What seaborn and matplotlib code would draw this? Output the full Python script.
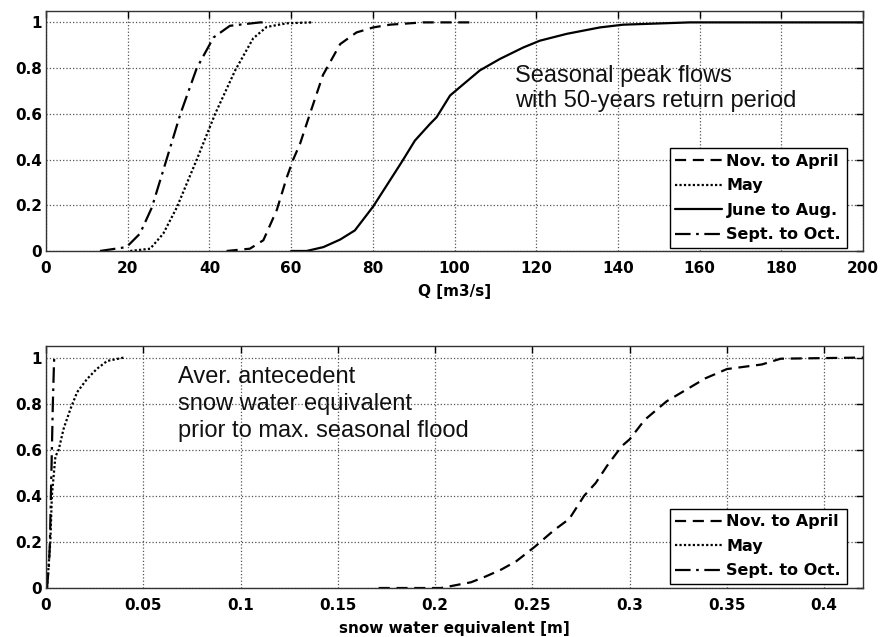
import numpy as np
import pandas as pd
import matplotlib
matplotlib.use("Agg")
import matplotlib.pyplot as plt
from matplotlib.ticker import FuncFormatter
import seaborn as sns

# ---------------- data ----------------
# Top panel: seasonal peak flows, CDF
q_nov = [44.2, 49.9, 53.2, 56.5, 58.9, 60.5, 62.2, 64.6, 67.8, 72.0, 76.0, 80.1, 84.2, 92.3, 105.0]
p_nov = [0.0, 0.01, 0.047, 0.18, 0.32, 0.40, 0.47, 0.60, 0.77, 0.905, 0.956, 0.978, 0.99, 1.0, 1.0]

q_may = [20.6, 25.5, 28.7, 32.0, 36.9, 41.4, 46.3, 50.7, 54.0, 58.9, 65.0]
p_may = [0.0, 0.01, 0.076, 0.19, 0.40, 0.60, 0.79, 0.93, 0.98, 0.996, 1.0]

q_jun = [60.0, 63.8, 67.9, 72.0, 75.6, 80.1, 83.4, 87.1, 90.3, 94.0, 95.6, 98.9, 102.2,
         106.2, 111.1, 116.8, 120.9, 127.5, 135.6, 141.3, 149.5, 157.6, 200.0]
p_jun = [0.0, 0.0, 0.017, 0.05, 0.09, 0.195, 0.287, 0.39, 0.483, 0.556, 0.585, 0.68, 0.73,
         0.79, 0.84, 0.89, 0.92, 0.95, 0.978, 0.99, 0.995, 1.0, 1.0]

q_sep = [13.2, 19.7, 23.0, 25.9, 29.5, 32.9, 36.9, 41.0, 45.0, 52.4, 54.0]
p_sep = [0.0, 0.017, 0.076, 0.19, 0.40, 0.60, 0.80, 0.934, 0.985, 1.0, 1.0]

# Bottom panel: antecedent snow water equivalent, CDF
s_nov = [0.171, 0.203, 0.2185, 0.226, 0.234, 0.2417, 0.2514, 0.261, 0.269, 0.2766, 0.2826,
         0.2884, 0.296, 0.300, 0.3078, 0.319, 0.329, 0.339, 0.350, 0.368, 0.3777, 0.42]
sp_nov = [0.0, 0.0, 0.025, 0.05, 0.08, 0.116, 0.18, 0.25, 0.30, 0.40, 0.456,
          0.53, 0.616, 0.645, 0.73, 0.81, 0.86, 0.91, 0.95, 0.97, 0.995, 1.0]

s_may = [0.0005, 0.0022, 0.003, 0.0048, 0.0065, 0.009, 0.0125, 0.016, 0.021, 0.026, 0.0314, 0.040]
sp_may = [0.0, 0.2, 0.4, 0.57, 0.60, 0.69, 0.776, 0.85, 0.906, 0.95, 0.985, 1.0]

s_sep = [0.0005, 0.0015, 0.002, 0.0025, 0.003, 0.0035, 0.004, 0.0042]
sp_sep = [0.0, 0.1, 0.2, 0.4, 0.6, 0.8, 0.95, 1.0]

labels = ["Nov. to April", "May", "June to Aug.", "Sept. to Oct."]
top_text = "Seasonal peak flows\nwith 50-years return period"
bot_text = "Aver. antecedent\nsnow water equivalent\nprior to max. seasonal flood"
top_xticks = [0, 20, 40, 60, 80, 100, 120, 140, 160, 180, 200]
bot_xticks = [0, 0.05, 0.1, 0.15, 0.2, 0.25, 0.3, 0.35, 0.4]
yticks = [0, 0.2, 0.4, 0.6, 0.8, 1.0]

# ---------------- style ----------------
sns.set_style("white")
plt.rcParams["font.family"] = ["DejaVu Sans"]
plt.rcParams["text.color"] = "black"
plt.rcParams["axes.labelcolor"] = "black"

fig = plt.figure(figsize=(8.82, 6.37), dpi=100)
ax1 = fig.add_axes([0.0522, 0.606, 0.9263, 0.3768])
ax2 = fig.add_axes([0.0522, 0.0769, 0.9263, 0.3799])

styles = {
    labels[0]: (0, (5, 3)),
    labels[1]: (0, (1, 1)),
    labels[2]: "-",
    labels[3]: (0, (7, 2.5, 1.2, 2.5)),
}
LW = 1.6

def draw(ax, x, y, lab):
    sns.lineplot(x=x, y=y, ax=ax, color="black", linewidth=LW, linestyle=styles[lab],
                 label=lab, estimator=None, sort=False)

draw(ax1, q_nov, p_nov, labels[0])
draw(ax1, q_may, p_may, labels[1])
draw(ax1, q_jun, p_jun, labels[2])
draw(ax1, q_sep, p_sep, labels[3])

draw(ax2, s_nov, sp_nov, labels[0])
draw(ax2, s_may, sp_may, labels[1])
draw(ax2, s_sep, sp_sep, labels[3])

fmt = FuncFormatter(lambda v, p: "%g" % round(v, 4))

for ax, xt, xlim, xlabel in [(ax1, top_xticks, (0, 200), "Q [m3/s]"),
                             (ax2, bot_xticks, (0, 0.42), "snow water equivalent [m]")]:
    ax.set_xlim(*xlim)
    ax.set_ylim(0, 1.05)
    ax.set_xticks(xt)
    ax.set_yticks(yticks)
    ax.xaxis.set_major_formatter(fmt)
    ax.yaxis.set_major_formatter(fmt)
    ax.grid(True, linestyle=":", color="#555555", linewidth=0.9)
    ax.tick_params(direction="in", length=5, width=1, top=True, right=True,
                   labelsize=11, colors="black", labelcolor="black")
    ax.tick_params(axis="x", pad=7)
    ax.tick_params(axis="y", pad=3)
    for lbl in ax.get_xticklabels() + ax.get_yticklabels():
        lbl.set_fontweight("bold")
    for sp in ax.spines.values():
        sp.set_color("#333333")
        sp.set_linewidth(1.0)
    ax.set_xlabel(xlabel, fontsize=11, fontweight="bold", labelpad=6, color="black")
    ax.set_ylabel("")

leg_kw = dict(frameon=True, fancybox=False, edgecolor="black", framealpha=1,
              prop={"family": "DejaVu Sans", "weight": "bold", "size": 11.5},
              handlelength=2.9, handletextpad=0.3, borderpad=0.35, labelspacing=0.6,
              borderaxespad=0)
l1 = ax1.legend(loc="lower right", bbox_to_anchor=(0.980, 0.0125), **leg_kw)
l1.get_frame().set_linewidth(1.0)
l2 = ax2.legend(loc="lower right", bbox_to_anchor=(0.980, 0.0165), **leg_kw)
l2.get_frame().set_linewidth(1.0)

ax1.text(114.8, 0.815, top_text, fontsize=17, family="Liberation Sans", va="top", ha="left",
         linespacing=1.2, color="#111111")
ax2.text(0.068, 0.965, bot_text, fontsize=17, family="Liberation Sans", va="top", ha="left",
         linespacing=1.3, color="#111111")

fig.savefig("out.png", dpi=100, facecolor="white")
